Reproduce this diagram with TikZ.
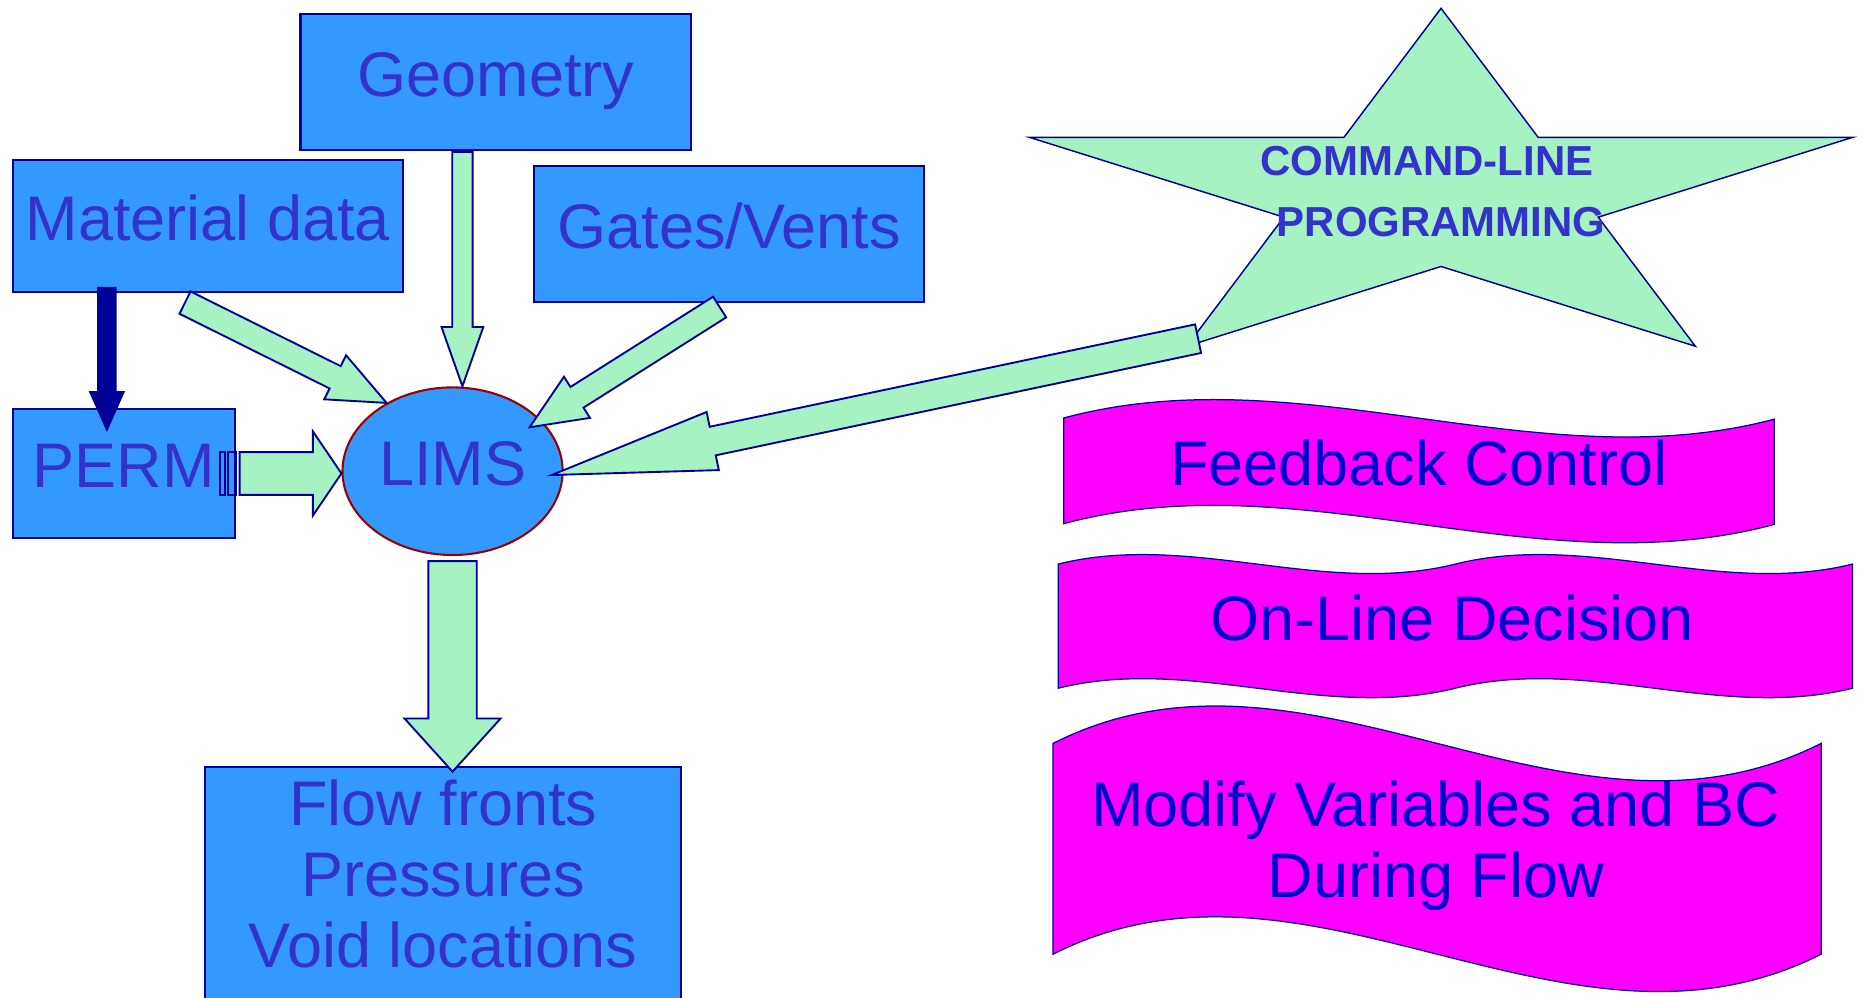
\documentclass[tikz,border=0pt]{standalone}
\usepackage{fontspec}
\setmainfont{Liberation Sans}
\usetikzlibrary{calc, shapes.geometric, positioning}

\definecolor{boxblue}{HTML}{3399FF}
\definecolor{edgeblue}{HTML}{000099}
\definecolor{labelblue}{HTML}{3333CC}
\definecolor{mint}{HTML}{A6F2C2}
\definecolor{waveblue}{HTML}{0000CC}
\definecolor{wavepink}{HTML}{FF00FF}
\definecolor{limsred}{HTML}{990000}

\newcommand{\bigfont}{\fontsize{30.2}{34.1}\selectfont}
\newcommand{\starfont}{\bfseries\fontsize{20.1}{29.4}\selectfont}

% block arrow: [style]{tail}{tip}{shaft half width}{head half width}{head length}
\newcommand{\fatarrow}[6][]{%
  \coordinate (fa) at ($(#3)!#6!(#2)$);
  \draw[blockarrow,#1] ($(#2)!#4!90:(#3)$) -- ($(fa)!#4!90:(#3)$)
    -- ($(fa)!#5!90:(#3)$) -- (#3) -- ($(fa)!#5!-90:(#3)$)
    -- ($(fa)!#4!-90:(#3)$) -- ($(#2)!#4!-90:(#3)$) -- cycle;}

\begin{document}
\begin{tikzpicture}[
    x=0.02cm, y=-0.02cm,
    databox/.style={
        draw=edgeblue,
        line width=1pt,
        fill=boxblue,
        text=labelblue,
        font=\bigfont,
        inner sep=0pt,
        text height=22.6pt,
        text depth=9pt
    },
    blockarrow/.style={draw=edgeblue, line width=0.9pt, fill=mint},
    stripe/.style={draw=edgeblue, line width=0.9pt},
    bigstar/.style={draw=edgeblue, line width=0.7pt, fill=mint},
    wave/.style={draw=edgeblue, line width=0.6pt, fill=wavepink},
    wavetext/.style={text=waveblue, font=\bigfont, inner sep=0pt}
]
\useasboundingbox (0,0) rectangle (1568,839.6);

% boxes
\node[databox, minimum width=6.58cm, minimum height=2.28cm] (geom) at (417.5,69) {Geometry};
\node[databox, minimum width=6.574cm, minimum height=2.218cm] (matdata) at (175,190.2) {Material data};
\node[databox, minimum width=6.56cm, minimum height=2.28cm] (gates) at (614,197) {Gates/Vents};
\node[databox, minimum width=3.746cm, minimum height=2.172cm] (perm) at (104.3,398.7) {PERM};
\node[databox, ellipse, draw=limsred, minimum width=3.708cm, minimum height=2.824cm] (lims) at (381.1,396.8) {LIMS};
\node[databox, anchor=north, minimum width=8.02cm, minimum height=5cm] (flow) at (373.2,645) {};
\node[text=labelblue, font=\bigfont, align=center, inner sep=0pt, anchor=north] (flowtext) at (373.2,656) {Flow fronts\\Pressures\\Void locations};

% star
\coordinate (starc) at (1213.5,164.3);
\draw[bigstar, shift={(starc)}] (-90:364.3 and 157.3)
    \foreach \k [evaluate=\k as \r using {isodd(\k) ? 0.382 : 1}] in {1,...,9} {
        -- ({-90+36*\k}:{364.3*\r} and {157.3*\r})
    } -- cycle;
\node[text=labelblue, font=\starfont, align=center, inner sep=0pt] (clp) at (1213.5,161.4) {COMMAND-LINE\hspace*{0.48cm}\\PROGRAMMING};

% banners
\draw[wave] (895.7,352) .. controls (1095,298.3) and (1294.7,405.7) .. (1494,353)
    -- (1494,441.6) .. controls (1294.7,495.3) and (1095,387.3) .. (895.7,441) -- cycle;
\node[wavetext, anchor=base] (fbc) at (1194.8,408.6) {Feedback Control};
\draw[wave] (891.2,475) .. controls (1002.7,447.3) and (1114.1,502.7) .. (1225.6,475)
    .. controls (1337.1,447.3) and (1448.5,502.7) .. (1560,475)
    -- (1560,579.5) .. controls (1448.5,607.2) and (1337.1,551.8) .. (1225.6,579.5)
    .. controls (1114.1,607.2) and (1002.7,551.8) .. (891.2,579.5) -- cycle;
\node[wavetext, anchor=base] (old) at (1223,539.7) {On-Line Decision};
\draw[wave] (886.8,626) .. controls (1102.4,517) and (1318,735) .. (1533.6,626)
    -- (1533.6,803.5) .. controls (1318,912.5) and (1102.4,694.5) .. (886.8,803.5) -- cycle;
\node[wavetext, align=center] (mvbc) at (1209,711.9) {Modify Variables and BC\\During Flow};

% arrows
\coordinate (geomtail) at ($(geom.south)+(-28.1,1)$);
\coordinate (geomtip) at (geomtail |- lims.north);
\fatarrow{geomtail}{geomtip}{0.172cm}{0.352cm}{1.0cm}
\coordinate (mattail) at ($(matdata.south)+(-19.2,8.3)$);
\fatarrow{mattail}{lims.134}{0.21cm}{0.414cm}{0.968cm}
\coordinate (gatestail) at ($(gates.south)+(-8,3.7)$);
\coordinate (gatestip) at ($(lims.center)+(64.9,-37)$);
\fatarrow{gatestail}{gatestip}{0.206cm}{0.41cm}{0.944cm}
\coordinate (permtail) at ($(perm.east)+(3,0)$);
\coordinate (permtip) at (lims.west |- permtail);
\fatarrow{permtail}{permtip}{0.36cm}{0.71cm}{0.482cm}
\draw[stripe] ($(permtail)+(-16.5,-18)$) rectangle ($(permtail)+(-12.6,18)$);
\draw[stripe] ($(permtail)+(-10,-18)$) rectangle ($(permtail)+(-3.2,18)$);
\coordinate (flowtail) at ($(lims.south)+(0,4.2)$);
\coordinate (flowtip) at ($(flow.north)+(7.9,4.8)$);
\fatarrow{flowtail}{flowtip}{0.408cm}{0.81cm}{0.896cm}
\coordinate (cltail) at ($(starc)+(-204.6,120.9)$);
\coordinate (cltip) at ($(lims.center)+(83.5,3.2)$);
\fatarrow{cltail}{cltip}{0.246cm}{0.5cm}{2.772cm}
\coordinate (darktail) at ($(matdata.south)+(-85,-4.2)$);
\coordinate (darktip) at ($(perm.north)+(-14.3,18.3)$);
\fatarrow[fill=edgeblue]{darktail}{darktip}{0.149cm}{0.282cm}{0.634cm}
\end{tikzpicture}
\end{document}
